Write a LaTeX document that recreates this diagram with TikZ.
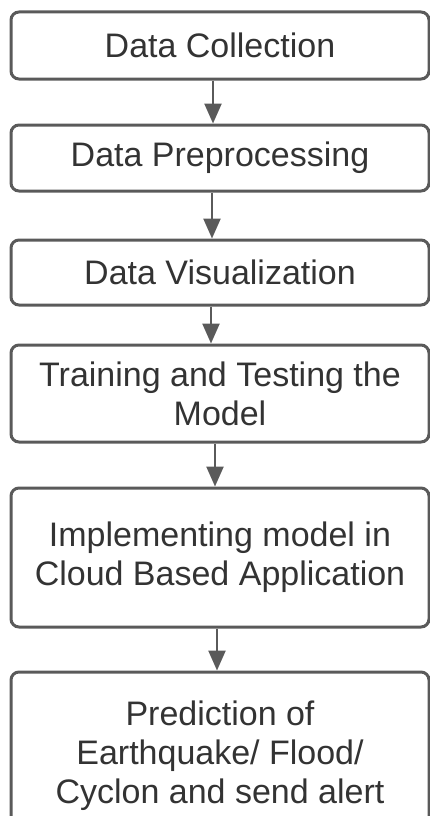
\documentclass[tikz,border=0pt]{standalone}
\usepackage{fontspec}
\setmainfont{Liberation Sans}
\usepackage{tikz}
\usetikzlibrary{arrows.meta, positioning, calc}

\definecolor{boxgray}{HTML}{5A5A5A}
\definecolor{textgray}{HTML}{333333}

\begin{document}
\begin{tikzpicture}[x=1pt, y=1pt,
        stage/.style={draw=boxgray, line width=3pt, rounded corners=8pt, minimum width=418pt, align=center, text=textgray, font=\fontsize{34}{39}\selectfont},
        flow/.style={draw=boxgray, line width=2.5pt, -{Triangle[length=20pt,width=17pt]}}]
        \useasboundingbox (0,0) rectangle (430,-816);

        % Stages of the pipeline (top to bottom)
        \node[stage, minimum height=67pt] (collect) at (220,-45.5) {Data Collection};
        \node[stage, minimum height=66pt] (prep) at (220,-158) {Data Preprocessing};
        \node[stage, minimum height=65pt] (visual) at (220,-272.5) {Data Visualization};
        \node[stage, minimum height=97pt] (train) at (220,-393.5) {Training and Testing the\\Model};
        \node[stage, minimum height=139pt] (cloud) at (220,-557.5) {Implementing model in\\Cloud Based Application};
        \node[stage, minimum height=168pt] (predict) at (220,-756) {Prediction of\\Earthquake/ Flood/\\Cyclon and send alert};

        % Arrows between the stages
        \draw[flow] ([xshift=-7pt]collect.south) -- ([xshift=-7pt]prep.north);
        \draw[flow] ([xshift=-8pt]prep.south) -- ([xshift=-8pt]visual.north);
        \draw[flow] ([xshift=-9pt]visual.south) -- ([xshift=-9pt]train.north);
        \draw[flow] ([xshift=-5pt]train.south) -- ([xshift=-5pt]cloud.north);
        \draw[flow] ([xshift=-3pt]cloud.south) -- ([xshift=-3pt]predict.north);
    \end{tikzpicture}
\end{document}
